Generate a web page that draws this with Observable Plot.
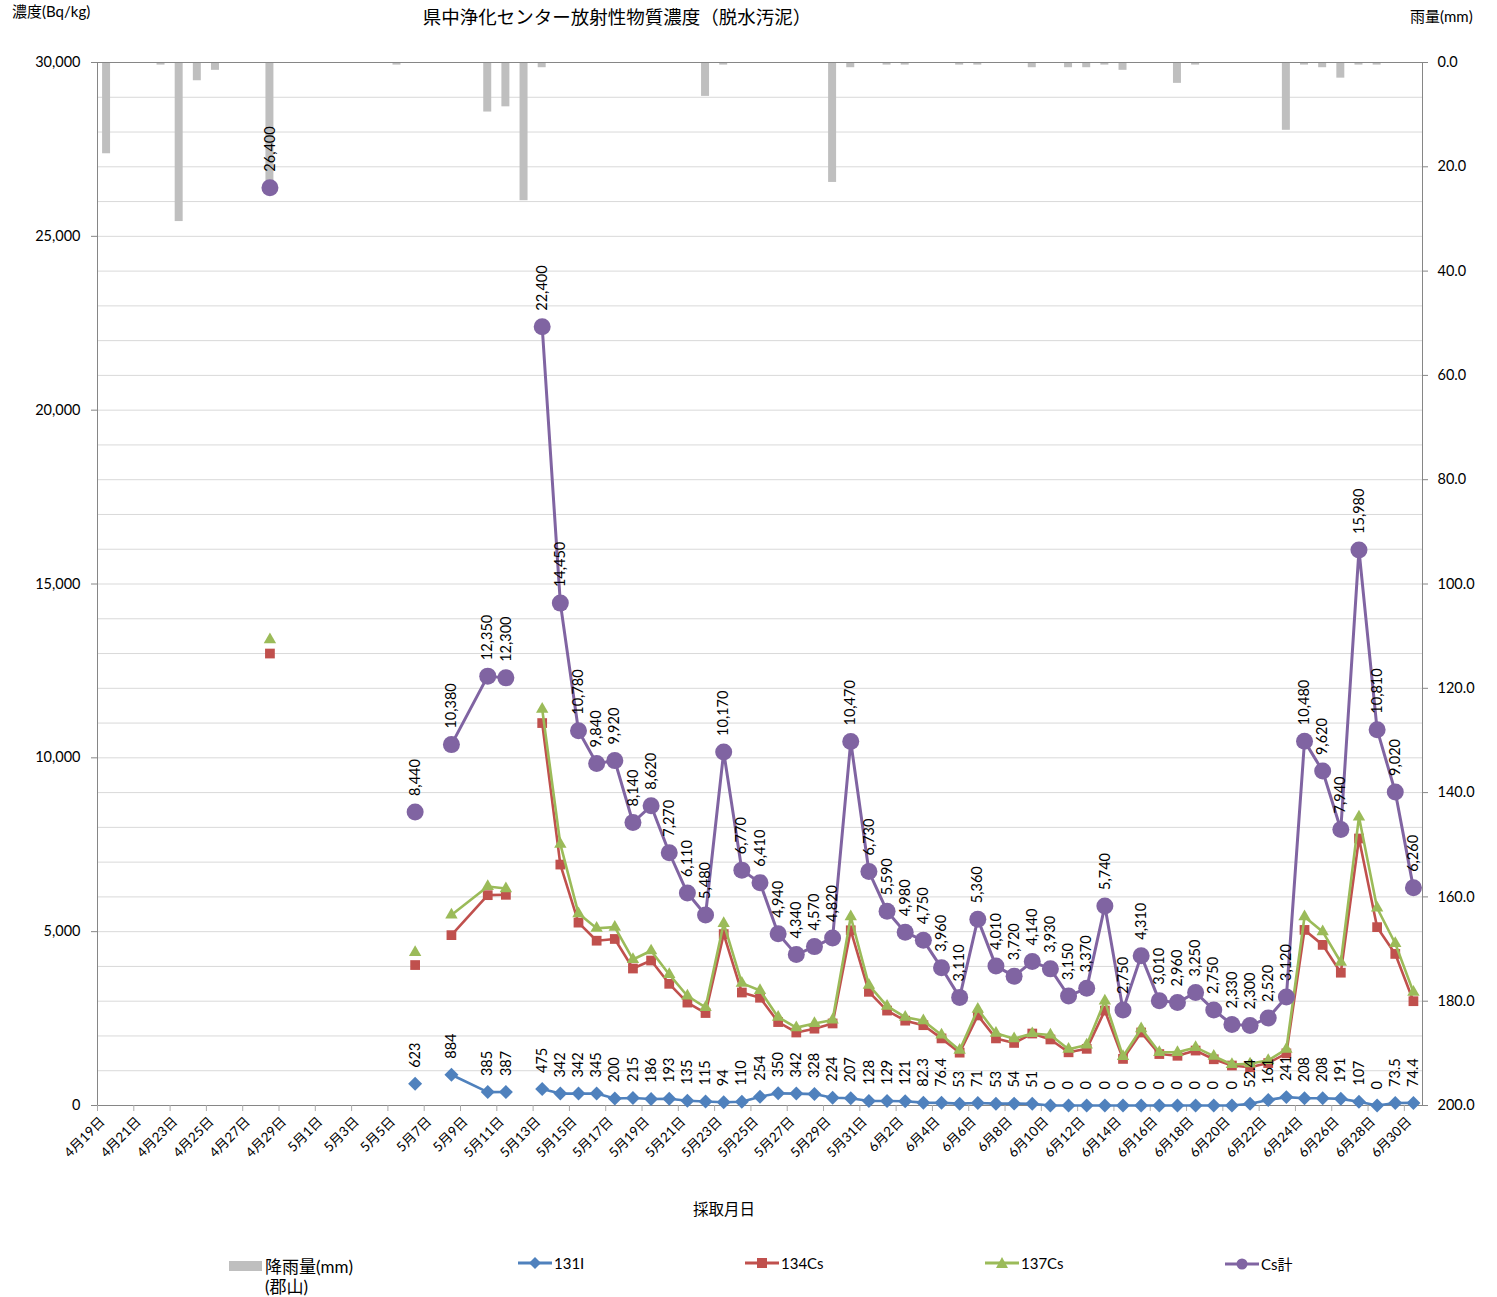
<!DOCTYPE html>
<html><head><meta charset="utf-8">
<script src="https://cdn.jsdelivr.net/npm/d3@7"></script>
<script src="https://cdn.jsdelivr.net/npm/@observablehq/plot@0.6"></script>
<style>
body{margin:0;background:#fff;font-family:Lato,"Noto Sans CJK JP",sans-serif;color:#000;}
#wrap{position:relative;width:1497px;height:1297px;overflow:hidden;}
.abs{position:absolute;white-space:nowrap;line-height:1;}
#chart{position:absolute;left:0;top:52px;}
.leg{position:absolute;display:flex;align-items:center;font-size:15px;white-space:nowrap;}
</style></head><body><div id="wrap">
<div class="abs" style="left:617px;top:7px;transform:translateX(-50%);font-size:18.5px;font-family:'Noto Sans CJK JP',sans-serif;">県中浄化センター放射性物質濃度（脱水汚泥）</div>
<div class="abs" style="left:12px;top:4px;font-size:15px;">濃度(Bq/kg)</div>
<div class="abs" style="left:1410px;top:9px;font-size:15px;">雨量(mm)</div>
<div class="abs" style="left:724px;top:1202px;transform:translateX(-50%);font-size:15.5px;">採取月日</div>
<div id="chart"></div>
<div id="legend"></div>
</div>
<script>
// ---- categories (x axis) ----
const days = [
 "4月19日","4月20日","4月21日","4月22日","4月23日","4月24日","4月25日","4月26日","4月27日","4月28日","4月29日","4月30日",
 "5月1日","5月2日","5月3日","5月4日","5月5日","5月6日","5月7日","5月8日","5月9日","5月10日","5月11日","5月12日","5月13日","5月14日","5月15日","5月16日","5月17日","5月18日","5月19日","5月20日","5月21日","5月22日","5月23日","5月24日","5月25日","5月26日","5月27日","5月28日","5月29日","5月30日","5月31日",
 "6月1日","6月2日","6月3日","6月4日","6月5日","6月6日","6月7日","6月8日","6月9日","6月10日","6月11日","6月12日","6月13日","6月14日","6月15日","6月16日","6月17日","6月18日","6月19日","6月20日","6月21日","6月22日","6月23日","6月24日","6月25日","6月26日","6月27日","6月28日","6月29日","6月30日"
];
const xTickLabels = days.filter((d, i) => i % 2 === 0);

// ---- rainfall (郡山), mm ----
const rainDates = ["4月19日","4月22日","4月23日","4月24日","4月25日","4月28日","5月5日","5月10日","5月11日","5月12日","5月13日","5月22日","5月23日","5月29日","5月30日","6月1日","6月2日","6月5日","6月6日","6月9日","6月11日","6月12日","6月13日","6月14日","6月17日","6月18日","6月23日","6月24日","6月25日","6月26日","6月27日","6月28日"];
const rainMm    = [17.5, 0.5, 30.5, 3.5, 1.5, 24, 0.5, 9.5, 8.5, 26.5, 1.0, 6.5, 0.5, 23, 1.0, 0.5, 0.5, 0.5, 0.5, 1.0, 1.0, 1.0, 0.5, 1.5, 4.0, 0.5, 13, 0.5, 1.0, 3.0, 0.5, 0.5];

// ---- sampled concentrations, Bq/kg ----
const sampleDates = ["4月28日","5月6日","5月8日","5月10日","5月11日",
 "5月13日","5月14日","5月15日","5月16日","5月17日","5月18日","5月19日","5月20日","5月21日","5月22日","5月23日","5月24日","5月25日","5月26日","5月27日","5月28日","5月29日","5月30日","5月31日",
 "6月1日","6月2日","6月3日","6月4日","6月5日","6月6日","6月7日","6月8日","6月9日","6月10日","6月11日","6月12日","6月13日","6月14日","6月15日","6月16日","6月17日","6月18日","6月19日","6月20日","6月21日","6月22日","6月23日","6月24日","6月25日","6月26日","6月27日","6月28日","6月29日","6月30日"];
const iodine131 = [null,623,884,385,387,
 475,342,342,345,200,215,186,193,135,115,94,110,254,350,342,328,224,207,128,
 129,121,82.3,76.4,53,71,53,54,51,0,0,0,0,0,0,0,0,0,0,0,52.4,161,241,208,208,191,107,0,73.5,74.4];
const cesium134 = [13000,4040,4900,6050,6060,
 11000,6930,5260,4740,4790,3940,4170,3500,2960,2660,4930,3250,3100,2400,2100,2210,2360,5040,3270,
 2730,2440,2310,1930,1520,2590,1930,1800,2070,1900,1530,1630,2730,1340,2100,1480,1430,1580,1330,1150,1100,1220,1500,5050,4620,3820,7680,5130,4360,3000];
const cesium137 = [13400,4400,5480,6300,6240,
 11400,7520,5520,5100,5130,4200,4450,3770,3150,2820,5240,3520,3310,2540,2240,2360,2460,5430,3460,
 2860,2540,2440,2030,1590,2770,2080,1920,2070,2030,1620,1740,3010,1410,2210,1530,1530,1670,1420,1180,1200,1300,1620,5430,5000,4120,8300,5680,4660,3260];
const cesiumTotal = [26400,8440,10380,12350,12300,
 22400,14450,10780,9840,9920,8140,8620,7270,6110,5480,10170,6770,6410,4940,4340,4570,4820,10470,6730,
 5590,4980,4750,3960,3110,5360,4010,3720,4140,3930,3150,3370,5740,2750,4310,3010,2960,3250,2750,2330,2300,2520,3120,10480,9620,7940,15980,10810,9020,6260];
// the lines start anew at these dates
const lineBreaks = ["5月6日","5月8日","5月13日"];

// ---- axes ----
const leftTicks = [0,5000,10000,15000,20000,25000,30000];
const gridValues = d3.range(0, 30001, 1000);
const rainTicks = [0,20,40,60,80,100,120,140,160,180,200];
const Y_MAX = 30000, RAIN_MAX = 200;
const rainToY = r => Y_MAX - r * Y_MAX / RAIN_MAX;   // secondary (inverted) axis

const colors = {rain:"#BFBFBF", i131:"#4F81BD", cs134:"#C0504D", cs137:"#9BBB59", total:"#8064A2"};

const dayIndex = d => days.indexOf(d);
const rows = sampleDates.map((d, i) => ({
  date: d,
  i131: iodine131[i], cs134: cesium134[i], cs137: cesium137[i], total: cesiumTotal[i],
  group: lineBreaks.filter(b => dayIndex(b) <= dayIndex(d)).length
}));
const rainRows = rainDates.map((d, i) => ({date: d, mm: rainMm[i]}));
const iRows = rows.filter(d => d.i131 != null);

const W = 1497, H = 1140, ML = 97, MR = 75, MT = 10, MB = 87;
const FW = W - ML - MR, FH = H - MT - MB;
const step = FW / days.length;
const barInset = step * 0.28;
const fmtComma = d3.format(",");
const axisGray = "#868686";

const chart = Plot.plot({
  width: W, height: H,
  marginLeft: ML, marginRight: MR, marginTop: MT, marginBottom: MB,
  style: {fontFamily: 'Lato, "Noto Sans CJK JP", sans-serif', fontSize: "13px", background: "white", color: "#000", overflow: "visible"},
  x: {type: "band", domain: days, padding: 0, round: false, axis: null},
  y: {domain: [0, Y_MAX], axis: null},
  marks: [
    Plot.ruleY(gridValues, {stroke: "#d9d9d9", strokeWidth: 1}),
    Plot.barY(rainRows, {x: "date", y1: Y_MAX, y2: d => rainToY(d.mm), fill: colors.rain, insetLeft: barInset, insetRight: barInset}),
    Plot.frame({stroke: axisGray}),
    // left axis ticks + labels
    Plot.ruleY(leftTicks, {stroke: axisGray, insetRight: FW, insetLeft: -6}),
    Plot.text(leftTicks, {y: d => d, text: d => fmtComma(d), frameAnchor: "left", dx: -17, textAnchor: "end", fontSize: 14.5}),
    // right axis ticks + labels
    Plot.ruleY(rainTicks, {y: t => rainToY(t), stroke: axisGray, insetLeft: FW, insetRight: -6}),
    Plot.text(rainTicks, {y: t => rainToY(t), text: t => t.toFixed(1), frameAnchor: "right", dx: 15, textAnchor: "start", fontSize: 14.5}),
    // bottom axis ticks between categories + rotated labels
    Plot.tickX(xTickLabels, {x: d => d, dx: -step / 2, stroke: "#aaa", insetTop: FH, insetBottom: -6}),
    Plot.text(xTickLabels, {x: d => d, text: d => d, frameAnchor: "bottom", rotate: -45, textAnchor: "end", dx: -1, dy: 17, fontSize: 13.5}),
    // 131I
    Plot.line(iRows, {x: "date", y: "i131", z: "group", stroke: colors.i131, strokeWidth: 2.6}),
    Plot.dot(iRows, {x: "date", y: "i131", symbol: "diamond2", r: 6.3, fill: colors.i131}),
    // 134Cs
    Plot.line(rows, {x: "date", y: "cs134", z: "group", stroke: colors.cs134, strokeWidth: 2.6}),
    Plot.dot(rows, {x: "date", y: "cs134", symbol: "square", r: 5.5, fill: colors.cs134}),
    // 137Cs
    Plot.line(rows, {x: "date", y: "cs137", z: "group", stroke: colors.cs137, strokeWidth: 2.6}),
    Plot.dot(rows, {x: "date", y: "cs137", symbol: "triangle", r: 4.6, fill: colors.cs137}),
    // Cs total
    Plot.line(rows, {x: "date", y: "total", z: "group", stroke: colors.total, strokeWidth: 3}),
    Plot.dot(rows, {x: "date", y: "total", symbol: "circle", r: 8.5, fill: colors.total}),
    // data labels
    Plot.text(iRows, {x: "date", y: "i131", text: d => String(d.i131), rotate: -90, textAnchor: "start", dy: -16, fontSize: 14.5}),
    Plot.text(rows, {x: "date", y: "total", text: d => fmtComma(d.total), rotate: -90, textAnchor: "start", dy: -16, fontSize: 14.5})
  ]
});
document.getElementById("chart").appendChild(chart);

// ---- legend ----
const legendItems = [
  {label: "降雨量(mm)", sub: "(郡山)", kind: "bar", color: colors.rain, x: 229, size: 17},
  {label: "131I", kind: "diamond", color: colors.i131, x: 518, size: 15},
  {label: "134Cs", kind: "square", color: colors.cs134, x: 745, size: 15},
  {label: "137Cs", kind: "triangle", color: colors.cs137, x: 985, size: 15},
  {label: "Cs計", kind: "circle", color: colors.total, x: 1225, size: 15}
];
const leg = document.getElementById("legend");
for (const it of legendItems) {
  let sw;
  if (it.kind === "bar") sw = `<rect x="0" y="5" width="33" height="10" fill="${it.color}"/>`;
  else {
    let m = "";
    if (it.kind === "diamond") m = `<path d="M17,4 L23,10 L17,16 L11,10Z" fill="${it.color}"/>`;
    if (it.kind === "square") m = `<rect x="12" y="5" width="10" height="10" fill="${it.color}"/>`;
    if (it.kind === "triangle") m = `<path d="M17,4 L23,15 L11,15Z" fill="${it.color}"/>`;
    if (it.kind === "circle") m = `<circle cx="17" cy="10" r="5.5" fill="${it.color}"/>`;
    sw = `<line x1="0" x2="34" y1="10" y2="10" stroke="${it.color}" stroke-width="3"/>` + m;
  }
  const div = document.createElement("div");
  div.className = "leg";
  div.style.left = it.x + "px";
  div.style.top = "1253px";
  div.style.fontSize = it.size + "px";
  div.innerHTML = `<svg width="35" height="20" style="margin-right:1px">${sw}</svg><span>${it.label}</span>`;
  leg.appendChild(div);
  if (it.sub) {
    const s = document.createElement("div");
    s.className = "abs";
    s.style.left = (it.x + 36) + "px";
    s.style.top = "1278px";
    s.style.fontSize = it.size + "px";
    s.textContent = it.sub;
    leg.appendChild(s);
  }
}
</script>
</body></html>
